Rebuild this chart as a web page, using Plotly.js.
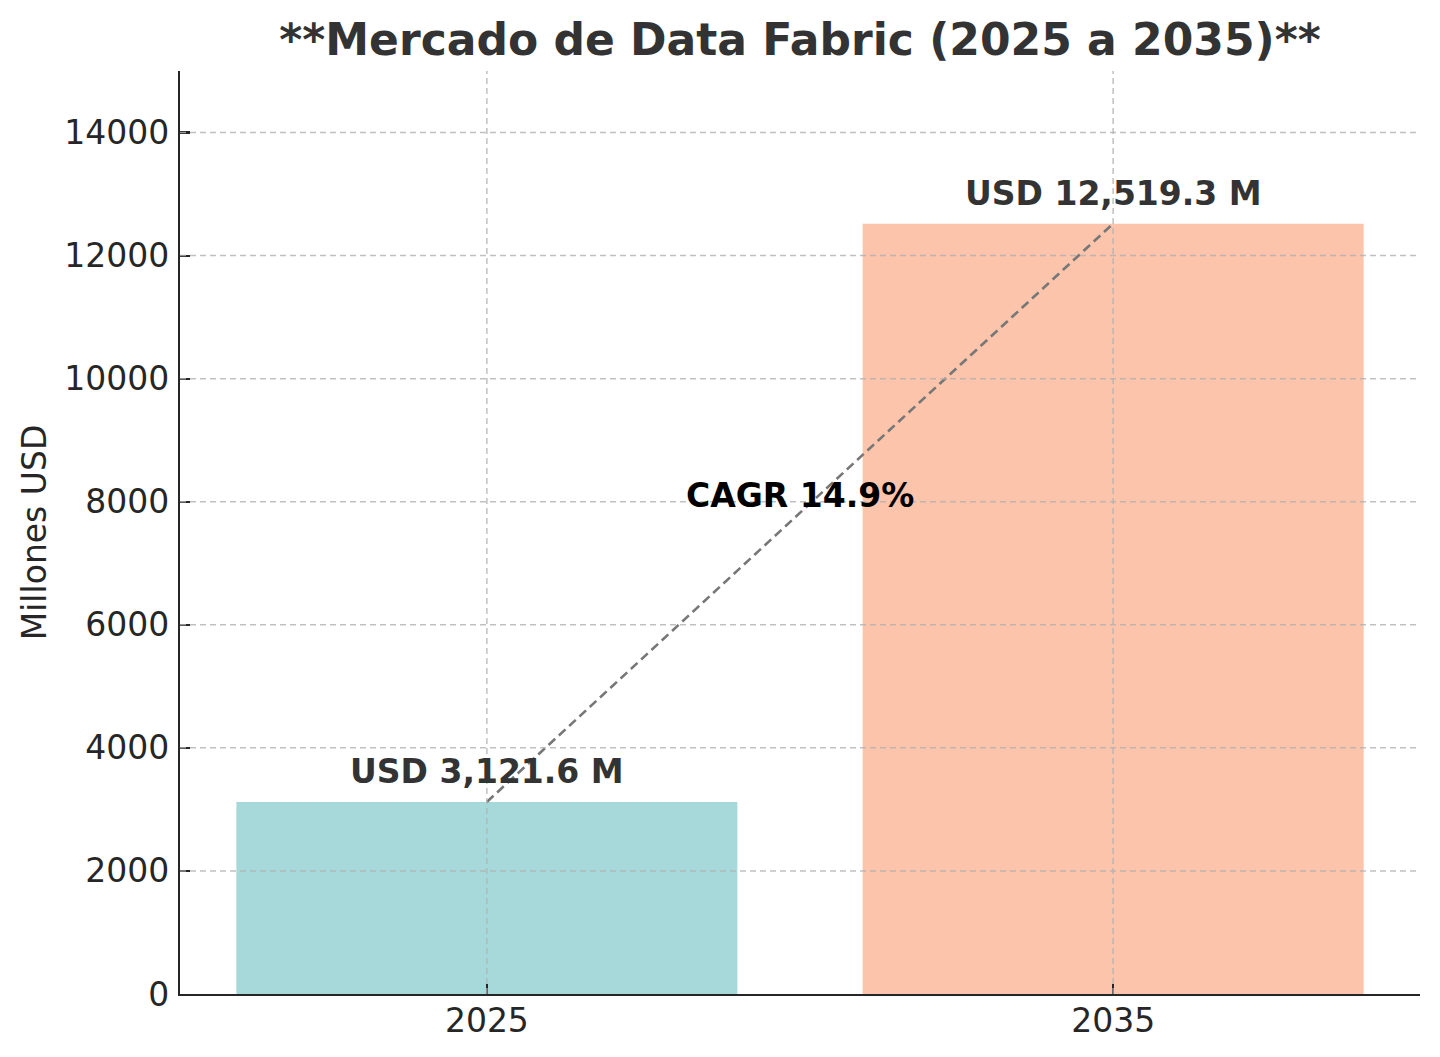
<!DOCTYPE html>
<html>
<head>
<meta charset="utf-8">
<script src="https://cdn.plot.ly/plotly-3.0.1.min.js"></script>
<style>
  html, body { margin: 0; padding: 0; background: #fff; }
  #plot { width: 1440px; height: 1057px; }
</style>
</head>
<body>
<div id="plot"></div>
<script>
var years = ['2025', '2035'];
var marketValues = [3121.6, 12519.3];
var barLabels = ['USD 3,121.6 M', 'USD 12,519.3 M'];
var barColors = ['#a8d9da', '#fbc4ab'];
var cagrText = 'CAGR 14.9%';
var cagrLabelY = 8100;
var yTicks = [0, 2000, 4000, 6000, 8000, 10000, 12000, 14000];

var font = 'DejaVu Sans, Liberation Sans, sans-serif';
var gridColor = 'rgba(176,176,176,0.8)';

var data = [
  {
    x: years,
    y: marketValues,
    type: 'bar',
    marker: { color: barColors },
    hoverinfo: 'skip'
  },
  {
    x: years,
    y: marketValues,
    type: 'scatter',
    mode: 'lines',
    line: { color: '#777777', width: 2.6, dash: '9px,5px' },
    hoverinfo: 'skip'
  }
];

// grid drawn as shapes so it sits above the bars (like the original)
var shapes = [];
for (var i = 0; i < yTicks.length; i++) {
  if (yTicks[i] === 0) continue;
  shapes.push({
    type: 'line', layer: 'above',
    xref: 'paper', x0: 0, x1: 1,
    yref: 'y', y0: yTicks[i], y1: yTicks[i],
    line: { color: gridColor, width: 1.5, dash: '6px,4px' }
  });
}
for (var i = 0; i < years.length; i++) {
  shapes.push({
    type: 'line', layer: 'above',
    xref: 'x', x0: i, x1: i,
    yref: 'paper', y0: 0, y1: 1,
    line: { color: gridColor, width: 1.5, dash: '6px,4px' }
  });
}

// category axis: annotations placed by category index
var annotations = [];
for (var i = 0; i < years.length; i++) {
  annotations.push({
    x: i, y: marketValues[i],
    xref: 'x', yref: 'y',
    text: '<b>' + barLabels[i] + '</b>',
    showarrow: false,
    xanchor: 'center', yanchor: 'bottom',
    yshift: 9,
    font: { family: font, size: 33, color: '#333333' }
  });
}
annotations.push({
  x: 0.5, y: cagrLabelY,
  xref: 'x', yref: 'y',
  text: '<b>' + cagrText + '</b>',
  showarrow: false,
  xanchor: 'center', yanchor: 'middle',
  font: { family: font, size: 33, color: '#000000' }
});

var layout = {
  width: 1440,
  height: 1057,
  paper_bgcolor: '#ffffff',
  plot_bgcolor: '#ffffff',
  showlegend: false,
  bargap: 0.2,
  margin: { l: 180, r: 20, t: 71, b: 63, pad: 0 },
  font: { family: font, size: 33, color: '#262626' },
  title: {
    text: '<b>**Mercado de Data Fabric (2025 a 2035)**</b>',
    font: { family: font, size: 44, color: '#333333' },
    x: 0.5, xref: 'paper',
    y: 0.963, yref: 'container', yanchor: 'middle'
  },
  xaxis: {
    type: 'category',
    range: [-0.49, 1.49],
    showgrid: false,
    zeroline: false,
    showline: true,
    linecolor: '#262626',
    linewidth: 2.2,
    ticks: 'inside',
    ticklen: 10,
    tickwidth: 2.2,
    tickcolor: '#262626',
    tickfont: { family: font, size: 33, color: '#262626' },
    ticklabelstandoff: -4
  },
  yaxis: {
    range: [0, 15000],
    tickvals: yTicks,
    tickformat: 'd',
    showgrid: false,
    zeroline: false,
    showline: true,
    linecolor: '#262626',
    linewidth: 2.2,
    ticks: 'inside',
    ticklen: 10,
    tickwidth: 2.2,
    tickcolor: '#262626',
    tickfont: { family: font, size: 33, color: '#262626' },
    ticklabelstandoff: 2,
    title: {
      text: 'Millones USD',
      font: { family: font, size: 33, color: '#262626' },
      standoff: 8
    }
  },
  shapes: shapes,
  annotations: annotations
};

Plotly.newPlot('plot', data, layout, { displayModeBar: false, staticPlot: true });
</script>
</body>
</html>
